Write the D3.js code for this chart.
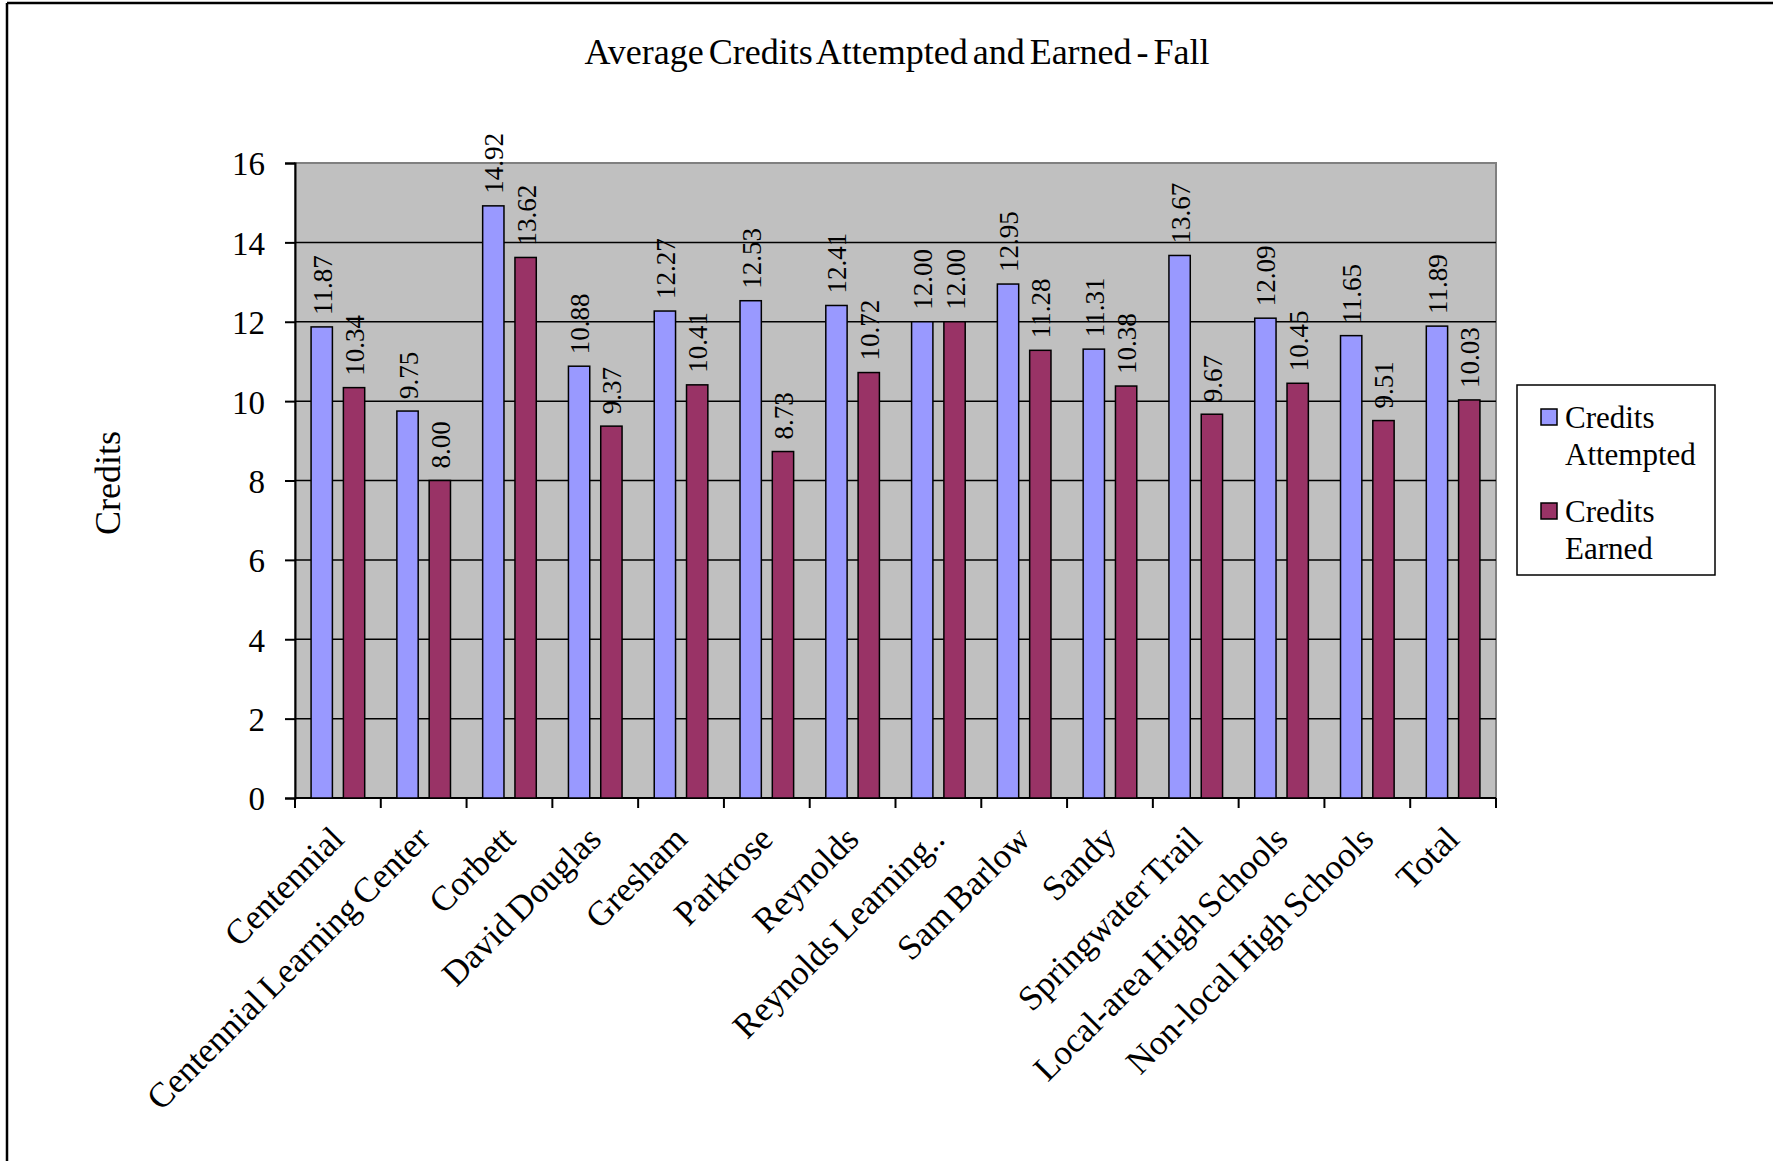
<!DOCTYPE html>
<html>
<head>
<meta charset="utf-8">
<script src="https://cdn.jsdelivr.net/npm/d3@7"></script>
<style>
  html, body { margin: 0; padding: 0; background: #fff; }
  svg { display: block; font-family: "Liberation Serif", "Times New Roman", serif; }
</style>
</head>
<body>
<svg id="chart" width="1773" height="1161"></svg>
<script>
const categories = ["Centennial", "Centennial Learning Center", "Corbett", "David Douglas", "Gresham",
  "Parkrose", "Reynolds", "Reynolds Learning..", "Sam Barlow", "Sandy", "Springwater Trail",
  "Local-area High Schools", "Non-local High Schools", "Total"];
const creditsAttempted = [11.87, 9.75, 14.92, 10.88, 12.27, 12.53, 12.41, 12.00, 12.95, 11.31, 13.67, 12.09, 11.65, 11.89];
const creditsEarned    = [10.34, 8.00, 13.62, 9.37, 10.41, 8.73, 10.72, 12.00, 11.28, 10.38, 9.67, 10.45, 9.51, 10.03];
const seriesNames = ["Credits Attempted", "Credits Earned"];
const seriesLegendLines = [["Credits", "Attempted"], ["Credits", "Earned"]];
const yTickValues = [0, 2, 4, 6, 8, 10, 12, 14, 16];
const titleText = "Average Credits Attempted and Earned - Fall";
const yAxisTitle = "Credits";

const colors = ["#9999FF", "#993366"];
const svg = d3.select("#chart");

// outer frame (left & top edges visible)
svg.append("line").attr("x1", 7).attr("y1", 3).attr("x2", 1773).attr("y2", 3).attr("stroke", "#000").attr("stroke-width", 2.5);
svg.append("line").attr("x1", 7).attr("y1", 3).attr("x2", 7).attr("y2", 1161).attr("stroke", "#000").attr("stroke-width", 2.5);

const plot = { left: 295, right: 1496, top: 163, bottom: 798 };

const y = d3.scaleLinear().domain([0, 16]).range([plot.bottom, plot.top]);
const x0 = d3.scaleBand().domain(categories).range([plot.left, plot.right]).paddingInner(0.375).paddingOuter(0.1875);
const x1 = d3.scaleBand().domain(seriesNames).range([0, x0.bandwidth()]).paddingInner(0.34);

// plot background
svg.append("rect").attr("x", plot.left).attr("y", plot.top)
  .attr("width", plot.right - plot.left).attr("height", plot.bottom - plot.top)
  .attr("fill", "#C0C0C0").attr("stroke", "#808080").attr("stroke-width", 2);

// gridlines
svg.append("g").selectAll("line").data(yTickValues.filter(v => v > 0 && v < 16)).join("line")
  .attr("x1", plot.left).attr("x2", plot.right)
  .attr("y1", d => y(d)).attr("y2", d => y(d))
  .attr("stroke", "#000").attr("stroke-width", 1.5);

// y axis
const yAxis = d3.axisLeft(y).tickValues(yTickValues).tickSize(10).tickPadding(20).tickFormat(d3.format("d"));
const gy = svg.append("g").attr("transform", `translate(${plot.left},0)`).call(yAxis);
gy.select(".domain").attr("stroke", "#000").attr("stroke-width", 2);
gy.selectAll(".tick line").attr("stroke", "#000").attr("stroke-width", 2);
gy.selectAll(".tick text").attr("font-size", 33).attr("fill", "#000")
  .attr("font-family", "Liberation Serif, Times New Roman, serif").attr("dy", "0.36em");

// x axis
const boundaries = d3.range(categories.length + 1).map(i => plot.left + i * x0.step());
const gx = svg.append("g");
gx.append("line").attr("x1", plot.left).attr("x2", plot.right).attr("y1", plot.bottom).attr("y2", plot.bottom)
  .attr("stroke", "#000").attr("stroke-width", 2);
gx.selectAll("line.tk").data(boundaries).join("line").attr("class", "tk")
  .attr("x1", d => d).attr("x2", d => d).attr("y1", plot.bottom).attr("y2", plot.bottom + 10)
  .attr("stroke", "#000").attr("stroke-width", 2);
gx.selectAll("text").data(categories).join("text")
  .attr("transform", d => `translate(${x0(d) + x0.bandwidth() / 2 + 8},${plot.bottom + 43}) rotate(-45)`)
  .attr("text-anchor", "end")
  .attr("font-size", 35)
  .attr("word-spacing", -3)
  .attr("fill", "#000")
  .text(d => d);

// bars
const rows = categories.map((c, i) => ({ cat: c, vals: [creditsAttempted[i], creditsEarned[i]] }));
const groups = svg.append("g").selectAll("g").data(rows).join("g")
  .attr("transform", d => `translate(${x0(d.cat)},0)`);
groups.selectAll("rect").data(d => d.vals.map((v, k) => ({ k, v }))).join("rect")
  .attr("x", d => x1(seriesNames[d.k]))
  .attr("y", d => y(d.v))
  .attr("width", x1.bandwidth())
  .attr("height", d => y(0) - y(d.v))
  .attr("fill", d => colors[d.k])
  .attr("stroke", "#000").attr("stroke-width", 1.5);
groups.selectAll("text").data(d => d.vals.map((v, k) => ({ k, v }))).join("text")
  .attr("transform", d => `translate(${x1(seriesNames[d.k]) + x1.bandwidth() / 2 + 10},${y(d.v) - 12}) rotate(-90)`)
  .attr("text-anchor", "start")
  .attr("font-size", 27)
  .attr("fill", "#000")
  .text(d => d3.format(".2f")(d.v));

// y axis title
svg.append("text")
  .attr("transform", `translate(${120},${483}) rotate(-90)`)
  .attr("text-anchor", "middle")
  .attr("font-size", 36)
  .attr("fill", "#000")
  .text(yAxisTitle);

// title
svg.append("text")
  .attr("x", 897).attr("y", 64)
  .attr("text-anchor", "middle")
  .attr("font-size", 36)
  .attr("word-spacing", -4)
  .attr("fill", "#000")
  .text(titleText);

// legend
const lg = svg.append("g");
lg.append("rect").attr("x", 1517).attr("y", 385).attr("width", 198).attr("height", 190)
  .attr("fill", "#fff").attr("stroke", "#000").attr("stroke-width", 1.5);
seriesLegendLines.forEach((lines, k) => {
  const top = 409 + k * 94;
  lg.append("rect").attr("x", 1541).attr("y", top).attr("width", 16).attr("height", 16)
    .attr("fill", colors[k]).attr("stroke", "#000").attr("stroke-width", 1.5);
  lines.forEach((t, j) => {
    lg.append("text").attr("x", 1565).attr("y", top + 19 + j * 37)
      .attr("font-size", 31).attr("fill", "#000").text(t);
  });
});
</script>
</body>
</html>
